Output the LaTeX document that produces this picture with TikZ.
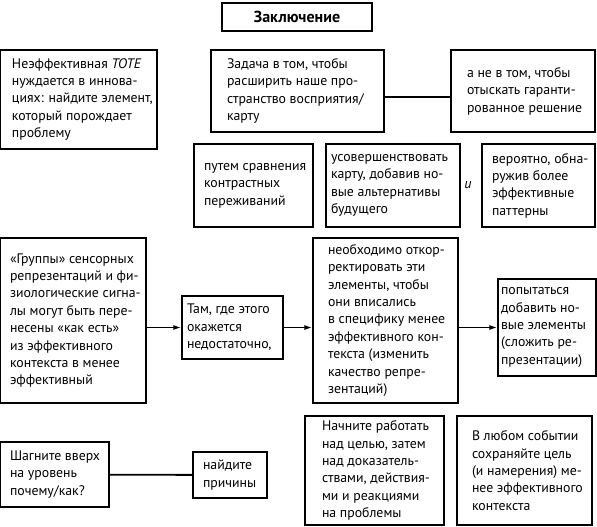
\documentclass[tikz,border=0pt]{standalone}
\usepackage{fontspec}
\setmainfont{PT Sans}
\usetikzlibrary{arrows.meta}
\newcommand\btx[3]{\hspace*{#1pt}\parbox{\dimexpr #2pt-#1pt\relax}{\raggedright #3}}
\begin{document}
\begin{tikzpicture}[x=1pt,y=-1pt,
  bx/.style={draw, line width=1.1pt, inner sep=0pt,
    font=\fontsize{13.8}{17.4}\selectfont, anchor=center},
  conn/.style={line width=1.8pt},
  arr/.style={line width=1.8pt, -{Latex[length=8pt,width=5pt]}}]
\useasboundingbox (0,0) rectangle (597,527);
% title
\node[draw, line width=1.1pt, minimum width=150pt, minimum height=28pt,
  font=\fontsize{16}{18}\selectfont\bfseries] (T) at (297,17) {Заключение};
% row 1
\node[bx, minimum width=157pt, minimum height=99pt] (A) at (78.5,99.5)
 {\btx{12}{157}{Неэффективная \textit{TOTE}\\нуждается в иннова-\\циях: найдите элемент,\\который порождает\\проблему}};
\node[bx, minimum width=173pt, minimum height=82pt] (B) at (297.5,91)
 {\btx{16}{173}{Задача в том, чтобы\\расширить наше про-\\странство восприятия/\\карту}};
\node[bx, minimum width=144pt, minimum height=82pt] (C) at (523,91)
 {\btx{16}{144}{а не в том, чтобы\\отыскать гаранти-\\рованное решение}};
\draw[conn] ([yshift=-6pt]B.east) -- ([yshift=-6pt]C.west);
% row 2
\node[bx, minimum width=119pt, minimum height=83pt] (D) at (253.5,185.5)
 {\btx{10}{119}{путем сравнения\\контрастных\\переживаний}};
\node[bx, minimum width=134pt, minimum height=83pt] (E) at (393,185.5)
 {\btx{5}{134}{усовершенствовать\\карту, добавив но-\\вые альтернативы\\будущего}};
\node[font=\fontsize{14}{16}\selectfont\itshape] (and) at (468,185) {и};
\node[bx, minimum width=113pt, minimum height=83pt] (F) at (538.5,185.5)
 {\btx{10}{113}{вероятно, обна-\\ружив более\\эффективные\\паттерны}};
% row 3
\node[bx, minimum width=146pt, minimum height=165pt] (G) at (73,320.5)
 {\btx{10}{146}{«Группы» сенсорных\\репрезентаций и фи-\\зиологические сигна-\\лы могут быть пере-\\несены «как есть»\\из эффективного\\контекста в менее\\эффективный}};
\node[bx, minimum width=101pt, minimum height=63pt] (H) at (232.5,327.5)
 {\btx{5}{101}{Там, где этого\\окажется\\недостаточно,}};
\node[bx, minimum width=145pt, minimum height=165pt] (I) at (385.5,320.5)
 {\btx{15}{145}{необходимо откор-\\ректировать эти\\элементы, чтобы\\они вписались\\в специфику менее\\эффективного кон-\\текста (изменить\\качество репре-\\зентаций)}};
\node[bx, minimum width=98pt, minimum height=97pt] (J) at (547,327.5)
 {\btx{3}{98}{попытаться\\добавить но-\\вые элементы\\(сложить ре-\\презентации)}};
\draw[arr] (G.east |- H.west) -- (H.west);
\draw[arr] (H.east) -- (I.west |- H.east);
\draw[arr] (I.east |- J.west) -- (J.west);
% row 4
\node[bx, minimum width=109pt, minimum height=65pt] (K) at (54.5,474.5)
 {\btx{10}{109}{Шагните вверх\\на уровень\\почему/как?}};
\node[bx, minimum width=74pt, minimum height=46pt] (L) at (230,475)
 {\btx{10}{74}{найдите\\причины}};
\draw[conn] (K) -- (L);
\node[bx, minimum width=139pt, minimum height=109pt] (M) at (374.5,470.5)
 {\btx{17}{139}{Начните работать\\над целью, затем\\над доказатель-\\ствами, действия-\\ми и реакциями\\на проблемы}};
\node[bx, minimum width=135pt, minimum height=109pt] (N) at (524.5,470.5)
 {\btx{15}{135}{В любом событии\\сохраняйте цель\\(и намерения) ме-\\нее эффективного\\контекста}};
\end{tikzpicture}
\end{document}
